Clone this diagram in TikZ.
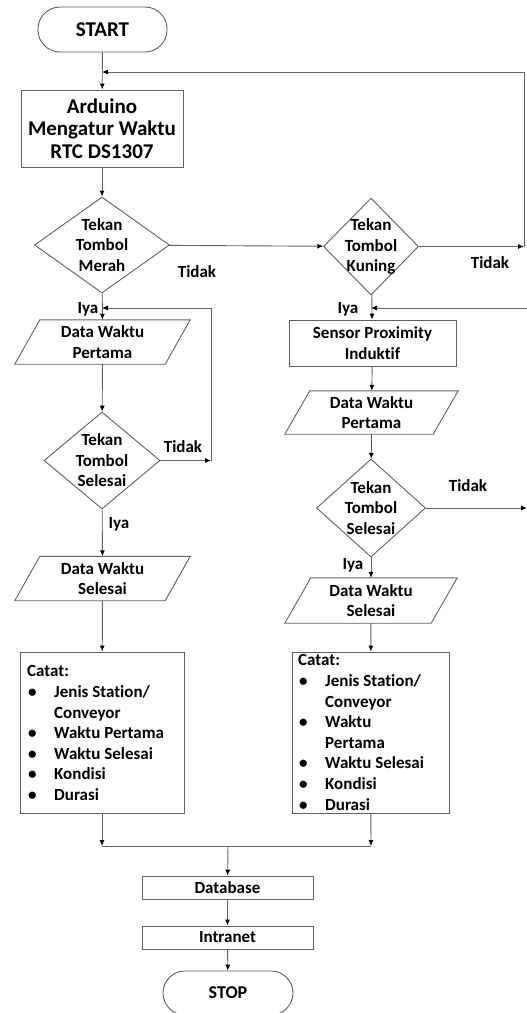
\documentclass[tikz,border=0pt]{standalone}
\usepackage{fontspec}
\setmainfont{Carlito}[Ligatures=NoCommon]
\usetikzlibrary{shapes.geometric,arrows.meta}
\newcommand\paral[2]{\draw[shp] ([xshift=#2]#1.north west) -- ([xshift=#2]#1.north east) -- ([xshift=-#2]#1.south east) -- ([xshift=-#2]#1.south west) -- cycle;}
\newcommand\bul{\makebox[27pt][l]{\hspace{1pt}\textbullet}}
\newcommand\ind{\hspace*{27pt}}
\begin{document}
\begin{tikzpicture}[x=1pt,y=-1pt,
  shp/.style={draw=black!62,line width=0.9pt},
  txt/.style={font=\bfseries\fontsize{17}{20.5}\selectfont,align=center,inner sep=0pt},
  bigtxt/.style={font=\bfseries\fontsize{21}{22.5}\selectfont,align=center,inner sep=0pt},
  box/.style={shp,rectangle,inner sep=0pt},
  term/.style={shp,rectangle,rounded corners=22pt,inner sep=0pt},
  diam/.style={shp,diamond,inner sep=0pt},
  pbox/.style={rectangle,draw=none,inner sep=0pt,minimum width=150pt,minimum height=44pt},
  conn/.style={draw=black!62,line width=0.9pt},
  arr/.style={conn,-{Latex[length=6pt,width=5pt,black]}},
  lbl/.style={font=\bfseries\fontsize{17}{20.5}\selectfont,inner sep=0pt},
  list/.style={font=\bfseries\fontsize{17}{20.6}\selectfont,align=left,inner sep=0pt,anchor=north west}
]
\useasboundingbox (0,0) rectangle (527,1013);
\fill[white] (0,0) rectangle (527,1013);

% terminals and boxes
\node[term,minimum width=129pt,minimum height=45pt] (start) at (102.5,29.5) {};
\node[bigtxt] (startt) at (start) {START};
\node[box,minimum width=162pt,minimum height=77pt] (ard) at (102,128.5) {};
\node[bigtxt] (ardt) at (ard) {Arduino\\Mengatur Waktu\\RTC DS1307};

% left branch
\node[diam,minimum width=135pt,minimum height=96pt] (merah) at (102,245) {};
\node[txt] (meraht) at (merah) {Tekan\\Tombol\\Merah};
\node[pbox] (dwpl) at (102.5,342) {};
\paral{dwpl}{12.5pt}
\node[txt] (dwplt) at (dwpl) {Data Waktu\\Pertama};
\node[diam,minimum width=116pt,minimum height=97pt] (sell) at (102,460.5) {};
\node[txt] (sellt) at (sell) {Tekan\\Tombol\\Selesai};
\node[pbox] (dwsl) at (102.5,578.5) {};
\paral{dwsl}{12.5pt}
\node[txt] (dwslt) at (dwsl) {Data Waktu\\Selesai};
\node[box,minimum width=164pt,minimum height=161pt] (catl) at (102,732.5) {};
\node[list] (catlt) at (27,665.5) {Catat:\\\bul Jenis Station/\\\ind Conveyor\\\bul Waktu Pertama\\\bul Waktu Selesai\\\bul Kondisi\\\bul Durasi};

% right branch
\node[diam,minimum width=95pt,minimum height=97pt] (kuning) at (371,246.5) {};
\node[txt] (kuningt) at (kuning) {Tekan\\Tombol\\Kuning};
\node[box,minimum width=167pt,minimum height=46pt] (sensor) at (372.5,343) {};
\node[txt] (sensort) at (sensor) {Sensor Proximity\\Induktif};
\node[pbox,minimum width=148pt,minimum height=43pt] (dwpr) at (371.5,412.5) {};
\paral{dwpr}{12.5pt}
\node[txt] (dwprt) at (dwpr) {Data Waktu\\Pertama};
\node[diam,minimum width=109pt,minimum height=98pt] (selr) at (371,508) {};
\node[txt] (selrt) at (selr) {Tekan\\Tombol\\Selesai};
\node[pbox,minimum width=146pt,minimum height=45pt] (dwsr) at (371,600.5) {};
\paral{dwsr}{13pt}
\node[txt] (dwsrt) at (dwsr) {Data Waktu\\Selesai};
\node[box,minimum width=157pt,minimum height=161pt] (catr) at (370.5,732.5) {};
\node[list] (catrt) at (298,654.5) {Catat:\\\bul Jenis Station/\\\ind Conveyor\\\bul Waktu\\\ind Pertama\\\bul Waktu Selesai\\\bul Kondisi\\\bul Durasi};

% bottom
\node[box,minimum width=171pt,minimum height=23pt] (db) at (227.5,887.5) {};
\node[txt] (dbt) at (db) {Database};
\node[box,minimum width=171pt,minimum height=23pt] (intra) at (227.5,937.5) {};
\node[txt] (intrat) at (intra) {Intranet};
\node[term,minimum width=130pt,minimum height=44pt] (stop) at (228,993) {};
\node[txt,font=\bfseries\fontsize{18}{20}\selectfont] (stopt) at (stop) {STOP};

% coordinates
\coordinate (j1) at (102,72);
\coordinate (kr) at (524,246.5);
\coordinate (j2) at (102,308);
\coordinate (sr) at (211,460.5);
\coordinate (j3) at (371,308);
\coordinate (e3) at (527,308);
\coordinate (e4) at (527,508);
\coordinate (ml) at (102,846);
\coordinate (mr) at (371,846);
\coordinate (mc) at (228,846);

% connectors
\draw[arr] (start) -- (ard);
\draw[arr] (kr) |- (j1);
\draw[arr] (ard) -- (merah);
\draw[arr] (merah) -- (kuning);
\draw[arr] (kuning) -- (kr);
\draw[arr] (merah) -- (dwpl);
\draw[arr] (sr) |- (j2);
\draw[arr] (dwpl) -- (sell);
\draw[arr] (sell) -- (sr);
\draw[arr] (sell) -- (dwsl);
\draw[arr] (dwsl) -- (catl);
\draw[arr] (kuning) -- (sensor);
\draw[arr] (e3) -- (j3);
\draw[arr] (sensor) -- (dwpr);
\draw[arr] (dwpr) -- (selr);
\draw[arr] (selr) -- (e4);
\draw[arr] (selr) -- (dwsr);
\draw[arr] (dwsr) -- (catr);
\draw[arr] (catl) -- (ml);
\draw[arr] (catr) -- (mr);
\draw[conn] (ml) -- (mr);
\draw[arr] (mc) -- (db);
\draw[arr] (db) -- (intra);
\draw[arr] (intra) -- (stop);

% labels
\node[lbl] (t1) at (197,272) {Tidak};
\node[lbl] (t2) at (490,263) {Tidak};
\node[lbl] (t3) at (183,447) {Tidak};
\node[lbl] (t4) at (468,486) {Tidak};
\node[lbl] (i1) at (88,309) {Iya};
\node[lbl] (i2) at (348,309) {Iya};
\node[lbl] (i3) at (119,524) {Iya};
\node[lbl] (i4) at (353,565) {Iya};
\end{tikzpicture}
\end{document}
